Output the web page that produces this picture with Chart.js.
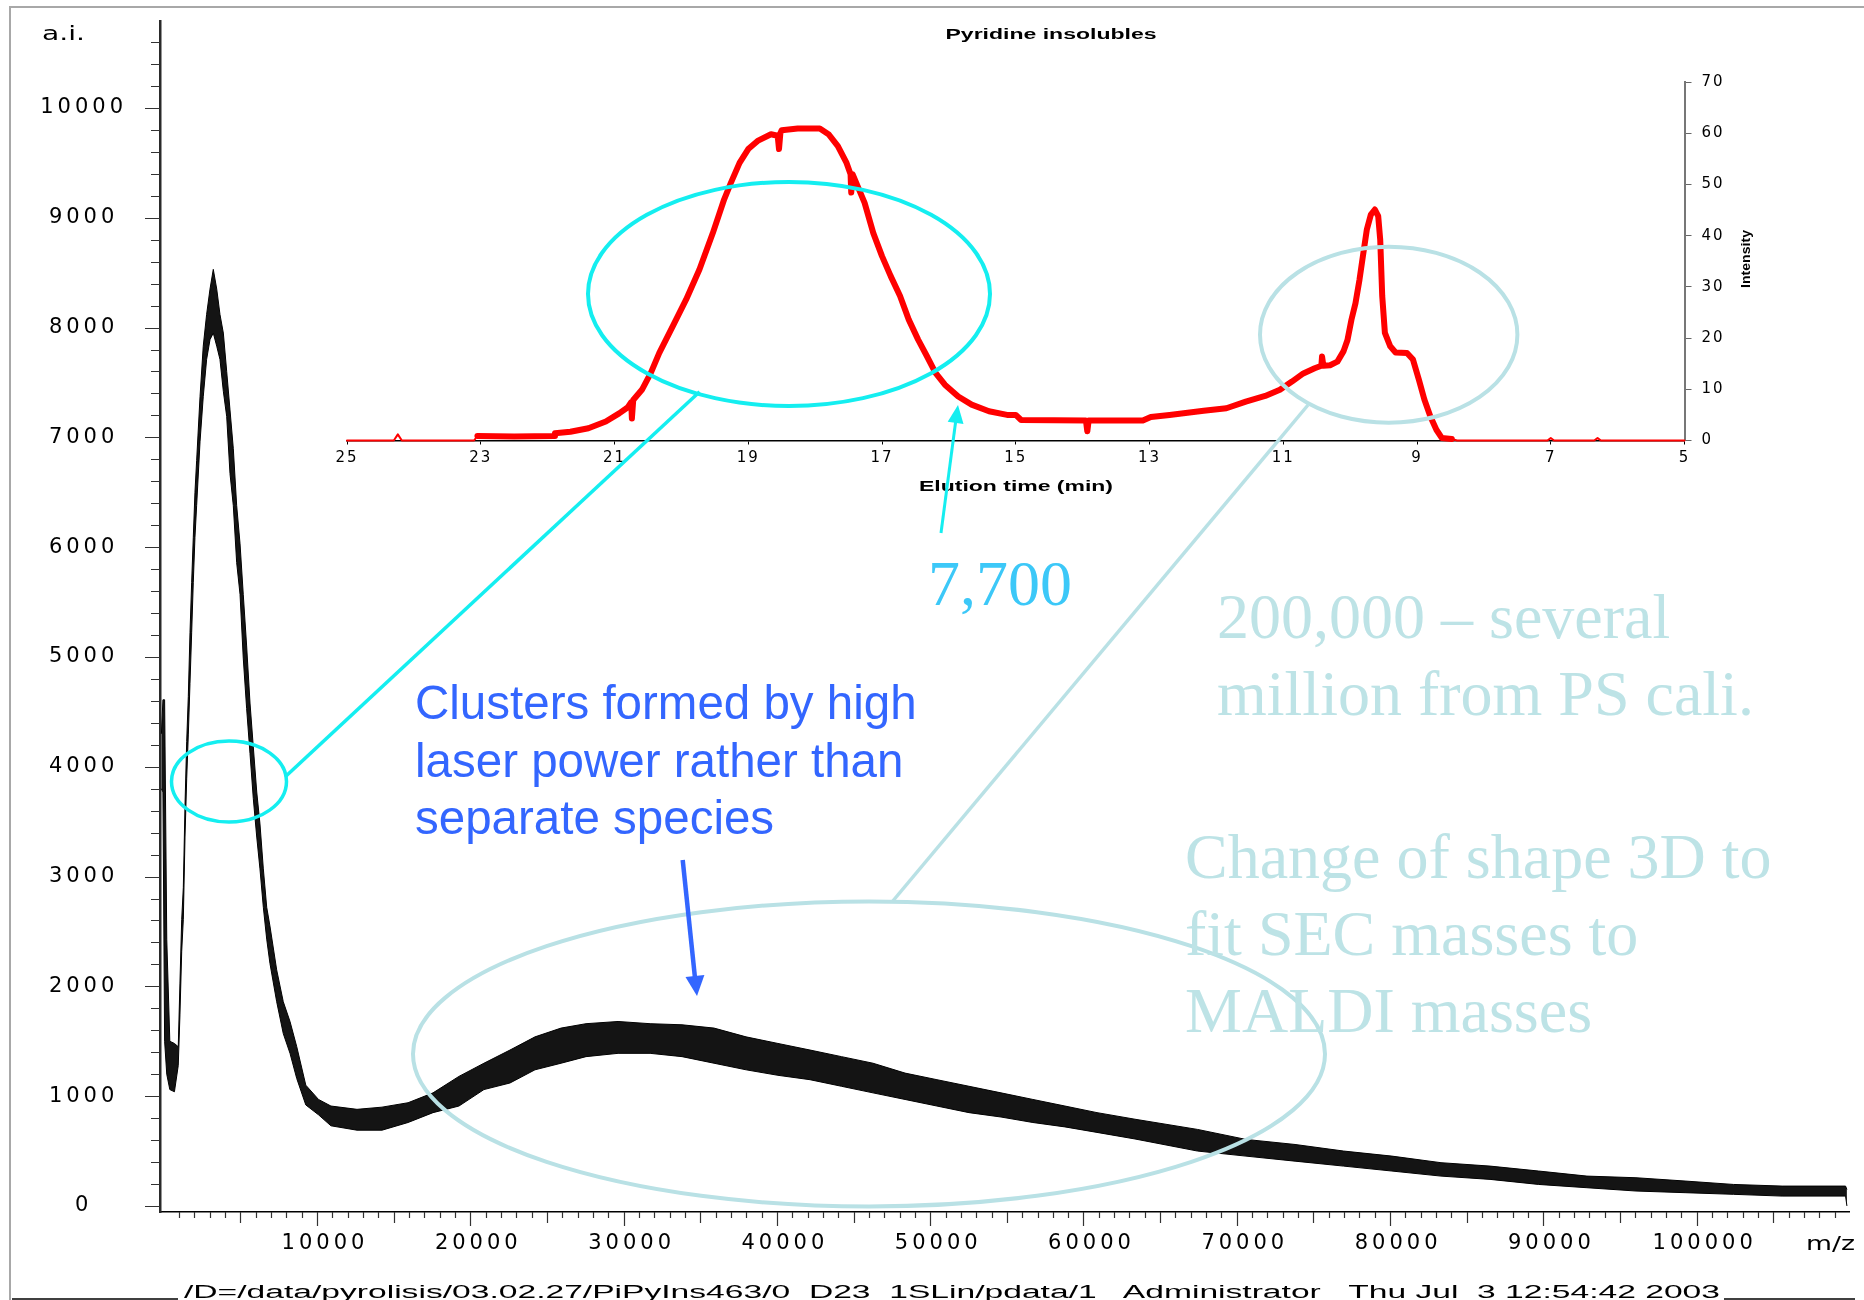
<!DOCTYPE html>
<html>
<head>
<meta charset="utf-8">
<title>MALDI spectrum of pyridine insolubles</title>
<script src="https://cdn.jsdelivr.net/npm/chart.js@4.4.1/dist/chart.umd.min.js"></script>
<style>
  html, body { margin: 0; padding: 0; background: #fff; }
  #stage { position: relative; width: 1864px; height: 1300px; overflow: hidden; background: #fff; }
  #stage canvas, #stage svg { position: absolute; left: 0; top: 0; }
  #notes { pointer-events: none; }
</style>
</head>
<body>
<div id="stage">
  <canvas id="mainChart" width="1864" height="1300"></canvas>
  <canvas id="insetChart" width="1864" height="1300"></canvas>
  <svg id="notes" width="1864" height="1300" viewBox="0 0 1864 1300" xmlns="http://www.w3.org/2000/svg">
    <!-- slide frame -->
    <path d="M10 1300 V7 H1864" fill="none" stroke="#a8a8a8" stroke-width="2"/>

    <!-- axis names of the spectrum -->
    <text x="42" y="40" font-family="DejaVu Sans" font-size="20" textLength="43" lengthAdjust="spacingAndGlyphs">a.i.</text>
    <text x="1806" y="1250" font-family="DejaVu Sans" font-size="20" textLength="49" lengthAdjust="spacingAndGlyphs">m/z</text>

    <!-- inset labels -->
    <text x="1051" y="39" text-anchor="middle" font-family="Liberation Sans" font-weight="bold" font-size="14" textLength="211" lengthAdjust="spacingAndGlyphs">Pyridine insolubles</text>
    <text x="1016" y="491" text-anchor="middle" font-family="Liberation Sans" font-weight="bold" font-size="14.5" textLength="194" lengthAdjust="spacingAndGlyphs">Elution time (min)</text>
    <text transform="translate(1750,259) rotate(-90)" text-anchor="middle" font-family="Liberation Sans" font-weight="bold" font-size="12.5" textLength="58" lengthAdjust="spacingAndGlyphs">Intensity</text>

    <!-- cyan: main SEC peak -->
    <ellipse cx="789" cy="294" rx="201" ry="112" fill="none" stroke="#14eef0" stroke-width="4"/>
    <ellipse cx="229" cy="781.5" rx="57.5" ry="40.5" fill="none" stroke="#14eef0" stroke-width="3.5"/>
    <line x1="285" y1="777" x2="699.6" y2="391.7" stroke="#14eef0" stroke-width="3.5"/>
    <line x1="941" y1="533" x2="955.6" y2="422" stroke="#14eef0" stroke-width="3"/>
    <polygon points="958,405 963.5,423.9 947.7,421.7" fill="#14eef0"/>
    <text x="928" y="605" font-family="Liberation Serif" font-size="64" fill="#3cc8f8">7,700</text>

    <!-- pale teal: excluded SEC peak and the broad MALDI hump -->
    <ellipse cx="1388.7" cy="334.7" rx="128.7" ry="88" fill="none" stroke="#b9e1e5" stroke-width="4"/>
    <line x1="1308" y1="405" x2="892" y2="902" stroke="#b9e1e5" stroke-width="3.5"/>
    <ellipse cx="869" cy="1054" rx="456" ry="152.5" fill="none" stroke="#b9e1e5" stroke-width="4"/>

    <g font-family="Liberation Serif" font-size="64" fill="#bde3e6">
      <text x="1217" y="638">200,000 – several</text>
      <text x="1217" y="715">million from PS cali.</text>
      <text x="1185" y="878">Change of shape 3D to</text>
      <text x="1185" y="955">fit SEC masses to</text>
      <text x="1185" y="1032">MALDI masses</text>
    </g>

    <!-- blue note -->
    <g font-family="Liberation Sans" font-size="47.5" fill="#3366ff">
      <text x="415" y="719">Clusters formed by high</text>
      <text x="415" y="777">laser power rather than</text>
      <text x="415" y="834">separate species</text>
    </g>
    <line x1="682.7" y1="860" x2="694.9" y2="977" stroke="#3366ff" stroke-width="4.5"/>
    <polygon points="697,996 704.4,975.1 685.5,977.1" fill="#3366ff"/>

    <!-- footer -->
    <line x1="12" y1="1299" x2="178" y2="1299" stroke="#000" stroke-width="1.5"/>
    <line x1="1724" y1="1299" x2="1855" y2="1299" stroke="#000" stroke-width="1.5"/>
    <text x="184" y="1298" font-family="Liberation Sans" font-size="18" textLength="1536" lengthAdjust="spacingAndGlyphs" style="white-space:pre">/D=/data/pyrolisis/03.02.27/PiPyIns463/0_D23_1SLin/pdata/1   Administrator   Thu Jul  3 12:54:42 2003</text>
  </svg>
</div>

<script>
// MALDI spectrum (m/z vs a.i.), upper and lower edge of the noisy trace
const mzValues = [-150, -50, 60, 200, 400, 700, 950, 1060, 1175, 1280,
  1390, 1500, 1605, 1715, 1825, 1930, 2040, 2150, 2370, 2580,
  2800, 3020, 3235, 3460, 3670, 3890, 4110, 4325, 4540, 4760,
  4980, 5190, 5410, 5630, 5845, 6070, 6280, 6500, 6720, 6930,
  7370, 7800, 8240, 8680, 9270, 10100, 10910, 12610, 14240, 15940,
  17570, 19260, 20890, 22590, 24220, 25920, 27550, 29640, 31730, 33810,
  35900, 37990, 40070, 42160, 44210, 46270, 48360, 50440, 52530, 54620,
  56700, 58790, 60880, 63360, 67440, 70600, 73800, 76970, 80120, 83320,
  86520, 89690, 92840, 96040, 99240, 102400, 105570, 109710, 109800];
const aiUpper = [4300, 4610, 4610, 2430, 1500, 1480, 1450, 2030, 2610, 2900,
  3650, 4230, 4640, 5220, 5680, 6090, 6500, 6790, 7370, 7830,
  8120, 8350, 8530, 8350, 8120, 7950, 7600, 7250, 6900, 6380,
  6030, 5570, 5100, 4580, 4180, 3770, 3480, 3070, 2720, 2550,
  2150, 1860, 1680, 1450, 1100, 970, 910, 880, 900, 940,
  1030, 1180, 1300, 1420, 1540, 1620, 1660, 1680, 1660, 1650,
  1620, 1540, 1480, 1420, 1360, 1300, 1210, 1150, 1090, 1030,
  970, 910, 850, 790, 697, 606, 560, 500, 454, 394,
  363, 318, 272, 257, 227, 196, 181, 181, 150];
const aiLower = [3800, 3770, 1500, 1200, 1060, 1040, 1280, 1740, 2320, 2610,
  3360, 3890, 4290, 4760, 5220, 5680, 6090, 6380, 6960, 7370,
  7710, 7890, 7950, 7830, 7710, 7420, 7190, 6670, 6380, 5860,
  5570, 4990, 4530, 4120, 3710, 3360, 3070, 2720, 2430, 2210,
  1860, 1570, 1390, 1160, 920, 830, 730, 690, 690, 760,
  850, 910, 1060, 1120, 1240, 1300, 1360, 1390, 1390, 1360,
  1300, 1240, 1190, 1150, 1090, 1030, 970, 910, 850, 810,
  760, 720, 670, 610, 500, 454, 408, 363, 318, 272,
  242, 196, 166, 136, 121, 106, 90, 90, 0];

// SEC trace of the pyridine insolubles (inset)
const elutionTimes = [25, 24.3, 24.24, 24.18, 23.1, 23.05, 22.5, 21.9, 21.89, 21.66,
  21.39, 21.13, 20.93, 20.8, 20.75, 20.74, 20.72, 20.59, 20.46, 20.33,
  20.13, 19.93, 19.73, 19.53, 19.36, 19.26, 19.13, 19.0, 18.86, 18.66,
  18.56, 18.54, 18.52, 18.5, 18.26, 17.93, 17.8, 17.66, 17.53, 17.47,
  17.46, 17.44, 17.26, 17.13, 17.0, 16.87, 16.73, 16.6, 16.46, 16.33,
  16.2, 16.06, 15.86, 15.66, 15.4, 15.13, 15.0, 14.92, 13.95, 13.93,
  13.91, 13.1, 12.98, 12.7, 12.19, 11.85, 11.56, 11.27, 11.05, 10.87,
  10.7, 10.53, 10.43, 10.42, 10.4, 10.3, 10.19, 10.1, 10.04, 9.98,
  9.92, 9.86, 9.81, 9.75, 9.69, 9.63, 9.58, 9.55, 9.52, 9.48,
  9.4, 9.32, 9.15, 9.06, 8.97, 8.89, 8.8, 8.71, 8.63, 8.48,
  8.4, 7.05, 7.0, 6.95, 6.35, 6.3, 6.25, 5];
const secIntensity = [0, 0, 1.2, 0, 0, 0.9, 0.8, 0.9, 1.4, 1.7,
  2.4, 3.7, 5.3, 6.5, 7.5, 4.3, 7.9, 9.9, 13.1, 17.1,
  22.3, 27.5, 33.4, 40.5, 47.1, 50.3, 54.2, 56.9, 58.5, 59.8,
  59.5, 56.9, 60, 60.6, 60.9, 60.9, 59.8, 57.5, 54.2, 52,
  48.4, 52, 46.4, 40.5, 36.0, 32.1, 28.2, 23.6, 19.7, 16.5,
  13.2, 10.9, 8.6, 7.0, 5.7, 5.0, 5.0, 4.0, 3.9, 1.8,
  3.9, 3.9, 4.6, 5.0, 5.8, 6.3, 7.6, 8.7, 9.9, 11.5,
  13.1, 14.1, 14.6, 16.4, 14.6, 14.7, 15.4, 17.4, 19.6, 23.6,
  26.8, 31.4, 35.9, 41.2, 44.1, 45.1, 43.8, 39.2, 28.2, 21.0,
  18.4, 17.2, 17.1, 15.8, 11.8, 8.0, 4.7, 2.1, 0.5, 0.3,
  0, 0, 0.5, 0, 0, 0.5, 0, 0];

// ticks: every 1000 m/z (labels every 10000), every 200 a.i. (labels every 1000)
const mzStep = 1000, mzLabelStep = 10000, mzLastTick = 109000;
const aiStep = 200, aiLabelStep = 1000, aiLastTick = 10600;
const elutionTicks = [25, 23, 21, 19, 17, 15, 13, 11, 9, 7, 5];
const intensityStep = 10;

const mzTicks = [];
for (let v = 0; v <= mzLastTick; v += mzStep) mzTicks.push(v);
const aiTicks = [];
for (let v = 0; v <= aiLastTick; v += aiStep) aiTicks.push(v);

// the old metafile draws its numbers wide, so space the letters out a bit
const letterSpacing = {
    id: 'letterSpacing',
    beforeDraw(chart, args, opts) { chart.ctx.letterSpacing = opts.value || '0px'; },
    afterDraw(chart) { chart.ctx.letterSpacing = '0px'; }
};

// minor / medium / major tick marks of the spectrum axes
const tickMarks = {
    id: 'tickMarks',
    afterDraw(chart) {
        const { ctx, chartArea, scales: { x, y } } = chart;
        ctx.save();
        ctx.strokeStyle = '#333';
        ctx.lineWidth = 1.2;
        ctx.beginPath();
        x.ticks.forEach(t => {
            const v = t.value;
            if (v <= 0) return;
            const len = v % mzLabelStep === 0 ? 14 : (v % 5000 === 0 ? 11 : 6);
            const px = Math.round(x.getPixelForValue(v)) + 0.5;
            ctx.moveTo(px, chartArea.bottom);
            ctx.lineTo(px, chartArea.bottom + len);
        });
        y.ticks.forEach(t => {
            const v = t.value;
            const len = v % aiLabelStep === 0 ? 15 : 9;
            const py = Math.round(y.getPixelForValue(v)) + 0.5;
            ctx.moveTo(chartArea.left - len, py);
            ctx.lineTo(chartArea.left, py);
        });
        ctx.stroke();
        ctx.restore();
    }
};

// fixed axis boxes, without the extra room Chart.js keeps for end labels
function fixBox(size) {
    return s => {
        if (s.isHorizontal()) s.height = size; else s.width = size;
        s.paddingTop = 0; s.paddingBottom = 0; s.paddingLeft = 0; s.paddingRight = 0;
    };
}

const labelFont = { family: 'DejaVu Sans', size: 21 };

new Chart(document.getElementById('mainChart'), {
    type: 'line',
    data: {
        datasets: [
            {
                label: 'lower edge',
                data: mzValues.map((x, i) => ({ x, y: aiLower[i] })),
                borderColor: '#000', borderWidth: 1, pointRadius: 0, fill: false
            },
            {
                label: 'upper edge',
                data: mzValues.map((x, i) => ({ x, y: aiUpper[i] })),
                borderColor: '#000', borderWidth: 1, pointRadius: 0,
                fill: '-1', backgroundColor: 'rgba(0,0,0,0.92)'
            }
        ]
    },
    options: {
        responsive: false,
        animation: false,
        devicePixelRatio: 1,
        layout: { padding: { top: 21, right: 15, left: 0, bottom: 0 } },
        plugins: {
            legend: { display: false },
            tooltip: { enabled: false },
            letterSpacing: { value: '4px' }
        },
        scales: {
            x: {
                type: 'linear', min: -241, max: 109935, bounds: 'data',
                afterBuildTicks: s => { s.ticks = mzTicks.map(v => ({ value: v })); },
                afterFit: fixBox(88),
                grid: { display: false, drawTicks: false },
                border: { display: true, color: '#000', width: 1.5 },
                ticks: {
                    autoSkip: false, maxRotation: 0,
                    padding: 19, labelOffset: 8, color: '#000', font: labelFont,
                    callback: v => (v > 0 && v % mzLabelStep === 0) ? String(v) : ''
                }
            },
            y: {
                type: 'linear', min: -55, max: 10792, bounds: 'data',
                afterBuildTicks: s => { s.ticks = aiTicks.map(v => ({ value: v })); },
                afterFit: fixBox(160),
                grid: { display: false, drawTicks: false },
                border: { display: true, color: '#2a2a2a', width: 2.5 },
                ticks: {
                    autoSkip: false,
                    crossAlign: 'center', padding: 43, color: '#000', font: labelFont,
                    callback: v => (v % aiLabelStep === 0) ? String(v) : ''
                }
            }
        }
    },
    plugins: [tickMarks, letterSpacing]
});

const insetFont = { family: 'DejaVu Sans', size: 15 };

new Chart(document.getElementById('insetChart'), {
    type: 'line',
    data: {
        datasets: [{
            label: 'Pyridine insolubles',
            data: elutionTimes.map((x, i) => ({ x, y: secIntensity[i] })),
            borderColor: '#ff0000',
            borderWidth: 6,
            borderJoinStyle: 'round',
            borderCapStyle: 'round',
            pointRadius: 0,
            clip: false,
            segment: {
                // the baseline before 23 min and after 8.4 min is drawn thin
                borderWidth: ctx => (ctx.p0.parsed.x >= 23.1 || ctx.p1.parsed.x <= 8.4) ? 2 : 6
            }
        }]
    },
    options: {
        responsive: false,
        animation: false,
        devicePixelRatio: 1,
        layout: { padding: { left: 347, top: 82, right: 119.5, bottom: 819.5 } },
        plugins: {
            legend: { display: false },
            tooltip: { enabled: false },
            letterSpacing: { value: '2px' }
        },
        scales: {
            x: {
                type: 'linear', reverse: true, min: 5, max: 25, bounds: 'data',
                afterBuildTicks: s => { s.ticks = elutionTicks.map(v => ({ value: v })); },
                afterFit: fixBox(40),
                grid: { drawOnChartArea: false, tickLength: 4, color: '#000' },
                border: { color: '#000', width: 1.5 },
                ticks: { autoSkip: false, maxRotation: 0, padding: 5, color: '#000', font: insetFont }
            },
            y: {
                position: 'right', min: 0, max: 70, bounds: 'data',
                afterFit: fixBox(60),
                grid: { drawOnChartArea: false, tickLength: 7, color: '#666' },
                border: { color: '#777', width: 2 },
                ticks: { stepSize: intensityStep, padding: 10, color: '#000', font: insetFont }
            }
        }
    },
    plugins: [letterSpacing]
});
</script>
</body>
</html>
